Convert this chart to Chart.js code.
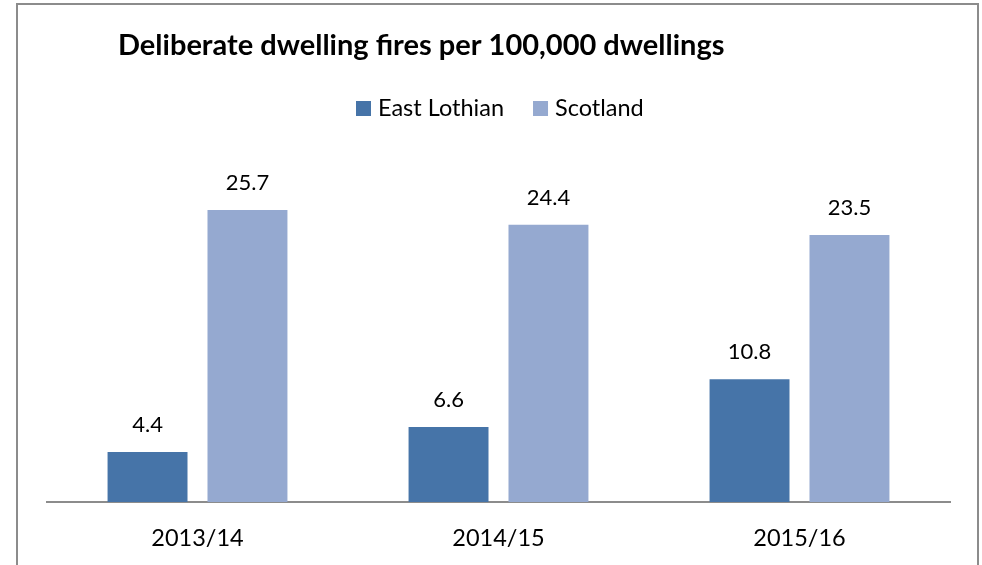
<!DOCTYPE html>
<html>
<head>
<meta charset="utf-8">
<script src="https://cdn.jsdelivr.net/npm/chart.js@4.4.1/dist/chart.umd.min.js"></script>
<style>
  html, body { margin: 0; padding: 0; background: #fff; overflow: hidden; }
  #frame {
    position: absolute; left: 16px; top: 3px;
    width: 959px; height: 620px;
    border: 2px solid #8c8c8c; border-bottom: none;
  }
  #wrap { position: absolute; left: 0; top: 0; width: 982px; height: 565px; }
</style>
</head>
<body>
<div id="frame"></div>
<div id="wrap"><canvas id="chart" width="982" height="565"></canvas></div>
<script>
// categories and series
const years = ['2013/14', '2014/15', '2015/16'];
const eastLothian = [4.4, 6.6, 10.8];
const scotland = [25.7, 24.4, 23.5];
const seriesNames = ['East Lothian', 'Scotland'];
const seriesColors = ['#4674a8', '#95a9d0'];
const chartTitle = 'Deliberate dwelling fires per 100,000 dwellings';

const FONT = 'Lato, "Open Sans", sans-serif';

// title, legend and value labels drawn on top of the bars
const decorations = {
  id: 'decorations',
  afterDraw(chart) {
    const ctx = chart.ctx;
    ctx.save();

    // title
    ctx.fillStyle = '#000';
    ctx.font = 'bold 29px ' + FONT;
    ctx.textAlign = 'left';
    ctx.textBaseline = 'middle';
    ctx.fillText(chartTitle, 118, 46);

    // legend
    ctx.font = '23.5px ' + FONT;
    let x = 356;
    seriesNames.forEach((name, i) => {
      ctx.fillStyle = seriesColors[i];
      ctx.fillRect(x, 101, 15, 15);
      ctx.fillStyle = '#000';
      ctx.fillText(name, x + 22, 108);
      x += 22 + ctx.measureText(name).width + 29;
    });

    // values above each bar
    ctx.font = '22px ' + FONT;
    ctx.textAlign = 'center';
    ctx.textBaseline = 'middle';
    chart.data.datasets.forEach((ds, di) => {
      chart.getDatasetMeta(di).data.forEach((bar, i) => {
        ctx.fillText(ds.data[i].toFixed(1), bar.x, bar.y - 27);
      });
    });
    ctx.restore();
  }
};

new Chart(document.getElementById('chart'), {
  type: 'bar',
  data: {
    labels: years,
    datasets: [
      { label: seriesNames[0], data: eastLothian, backgroundColor: seriesColors[0] },
      { label: seriesNames[1], data: scotland, backgroundColor: seriesColors[1] }
    ]
  },
  options: {
    responsive: false,
    animation: false,
    layout: { padding: { top: 161, left: 47, right: 32, bottom: 0 } },
    datasets: { bar: { categoryPercentage: 0.664, barPercentage: 0.8 } },
    plugins: {
      legend: { display: false },
      title: { display: false },
      tooltip: { enabled: false }
    },
    scales: {
      x: {
        grid: { display: false, drawTicks: false },
        border: { color: '#8c8c8c', width: 2 },
        ticks: { color: '#000', font: { family: FONT, size: 23.5 }, padding: 22 },
        afterFit: s => { s.height = 63; }
      },
      y: {
        display: false,
        min: 0,
        max: 30
      }
    }
  },
  plugins: [decorations]
});
</script>
</body>
</html>
